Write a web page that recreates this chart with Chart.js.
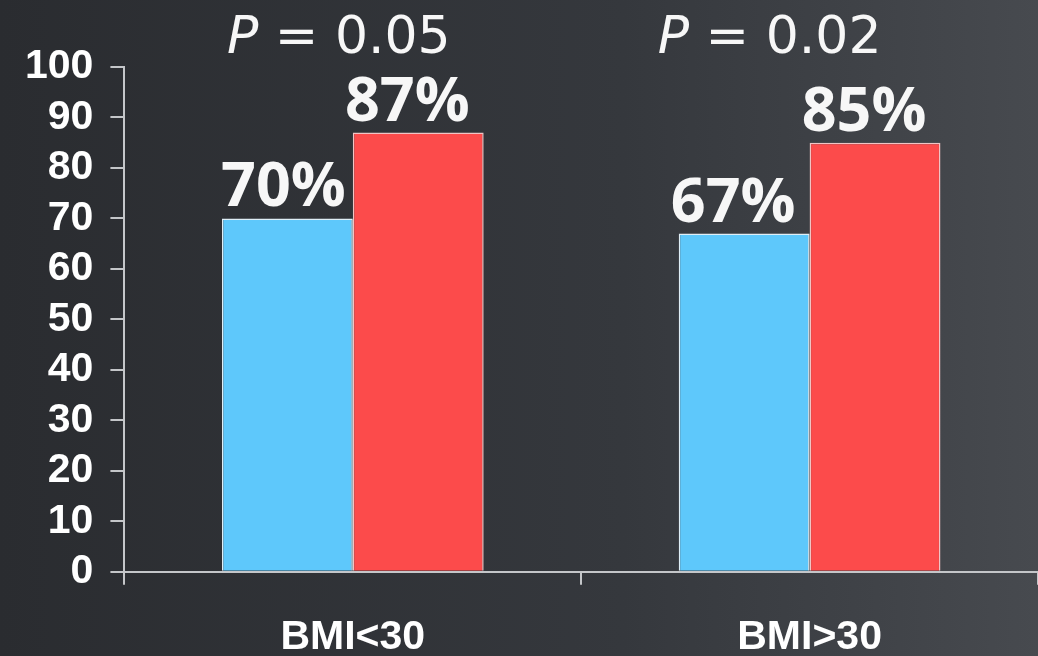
<!DOCTYPE html>
<html>
<head>
<meta charset="utf-8">
<script src="https://cdn.jsdelivr.net/npm/chart.js@4"></script>
<style>
  html, body { margin: 0; padding: 0; background: #2b2d31; }
  #wrap { width: 1038px; height: 656px; position: relative; }
</style>
</head>
<body>
<div id="wrap"><canvas id="bmiChart"></canvas></div>
<script>
const categories = ['BMI<30', 'BMI>30'];
const blueValues = [70, 67];
const redValues = [87, 85];
const pValues = ['0.05', '0.02'];
const yTicks = [0, 10, 20, 30, 40, 50, 60, 70, 80, 90, 100];

// fond en dégradé
const bgPlugin = {
    id: 'bg',
    beforeDraw(chart) {
        const ctx = chart.ctx;
        const g = ctx.createLinearGradient(0, 0, chart.width, 0);
        g.addColorStop(0, '#2a2c30');
        g.addColorStop(0.6, '#35383d');
        g.addColorStop(1, '#474a4f');
        ctx.save();
        ctx.fillStyle = g;
        ctx.fillRect(0, 0, chart.width, chart.height);
        ctx.restore();
    }
};

// étiquettes % au-dessus des barres + valeurs P
const pShift = [-14, -40];
const labelPlugin = {
    id: 'labels',
    afterDatasetsDraw(chart) {
        const ctx = chart.ctx;
        ctx.save();
        ctx.fillStyle = '#f7f7f7';
        ctx.textAlign = 'center';
        ctx.textBaseline = 'alphabetic';
        ctx.font = 'bold 61px "Open Sans"';
        chart.data.datasets.forEach((ds, di) => {
            chart.getDatasetMeta(di).data.forEach((bar, i) => {
                const dx = (di === 0 && i === 0) ? -4 : -11;
                ctx.fillText(ds.data[i] + '%', bar.x + dx, bar.y - 12);
            });
        });
        const xScale = chart.scales.x;
        pValues.forEach((p, i) => {
            const cx = xScale.getPixelForValue(i) + pShift[i];
            ctx.font = 'italic 52px "DejaVu Sans"';
            const pW = ctx.measureText('P').width;
            ctx.font = '52px "DejaVu Sans"';
            const rest = ' = ' + p;
            const rW = ctx.measureText(rest).width;
            const start = cx - (pW + rW) / 2;
            ctx.textAlign = 'left';
            ctx.font = 'italic 52px "DejaVu Sans"';
            ctx.fillText('P', start, 53);
            ctx.font = '52px "DejaVu Sans"';
            ctx.fillText(rest, start + pW, 53);
            ctx.textAlign = 'center';
        });
        ctx.restore();
    }
};

new Chart(document.getElementById('bmiChart'), {
    type: 'bar',
    data: {
        labels: categories,
        datasets: [{
            label: 'Groupe 1',
            data: blueValues,
            backgroundColor: '#5ec8fb',
            borderColor: '#dfeef6',
            borderWidth: 1.5
        }, {
            label: 'Groupe 2',
            data: redValues,
            backgroundColor: '#fc4b4b',
            borderColor: '#f1c4c4',
            borderWidth: 1.5
        }]
    },
    options: {
        responsive: true,
        maintainAspectRatio: false,
        animation: false,
        layout: { padding: { top: 67, left: 8, right: 0, bottom: -34 } },
        datasets: { bar: { categoryPercentage: 0.573, barPercentage: 1 } },
        plugins: {
            legend: { display: false },
            tooltip: { enabled: false }
        },
        scales: {
            x: {
                offset: true,
                border: { color: '#c4c6c9', width: 2 },
                grid: { offset: true, drawOnChartArea: false, color: '#c4c6c9', lineWidth: 2, tickLength: 13 },
                ticks: { color: '#ffffff', font: { family: 'Liberation Sans', size: 41, weight: 'bold' }, padding: 28 }
            },
            y: {
                min: 0,
                max: 100,
                afterBuildTicks: axis => { axis.ticks = yTicks.map(v => ({ value: v })); },
                border: { color: '#c4c6c9', width: 2 },
                grid: { drawOnChartArea: false, color: '#c4c6c9', lineWidth: 2, tickLength: 14 },
                ticks: { color: '#ffffff', autoSkip: false, font: { family: 'Liberation Sans', size: 41, weight: 'bold' }, padding: 17 }
            }
        }
    },
    plugins: [bgPlugin, labelPlugin]
});
</script>
</body>
</html>
